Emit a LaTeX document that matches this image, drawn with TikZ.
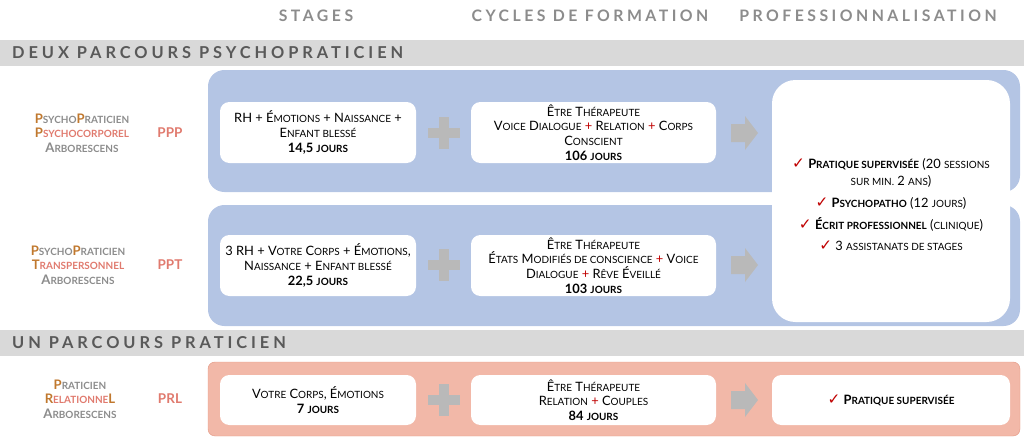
\documentclass[tikz,border=0pt]{standalone}
\usepackage{fontspec}
\setmainfont{Lato}
\newfontfamily\dejavu{DejaVu Sans}
\definecolor{bluebg}{HTML}{B4C5E4}
\definecolor{pinkbg}{HTML}{F2B8A8}
\definecolor{pinkbd}{HTML}{E49A86}
\definecolor{bandgray}{HTML}{D9D9D9}
\definecolor{hdgray}{HTML}{8C8C8C}
\definecolor{brn}{HTML}{C0782E}
\definecolor{pnk}{HTML}{E07A6E}
\definecolor{ckred}{HTML}{C00000}
\newcommand\sm[1]{{\fontsize{8.5}{8}\selectfont\MakeUppercase{#1}}}
\newcommand\ck{{\dejavu\fontsize{13}{12}\selectfont\color{ckred}\bfseries ✓}}
\newcommand\pl{{\color{ckred}+}}
\tikzset{
 hdr/.style={font=\fontsize{13.5}{14}\selectfont\bfseries\addfontfeatures{LetterSpace=22}, text=hdgray},
 band/.style={fill=bandgray, draw=none},
 bandtxt/.style={anchor=west, font=\fontsize{14}{14}\selectfont\bfseries\addfontfeatures{LetterSpace=24}, text=black!65},
 bt/.style={align=center, font=\fontsize{11}{12.5}\selectfont},
 lbl/.style={align=center, font=\fontsize{11.2}{12.5}\selectfont\bfseries, text=hdgray},
 code/.style={font=\fontsize{11.5}{12}\selectfont\bfseries, text=pnk},
}
\begin{document}
\begin{tikzpicture}[x=0.03cm,y=-0.03cm]
\useasboundingbox (0,0) rectangle (1024,438);
% headers
\node[hdr] (h1) at (316,16) {STAGES};
\node[hdr] (h2) at (590,16) {CYCLES DE FORMATION};
\node[hdr] (h3) at (868,16) {PROFESSIONNALISATION};
% bands
\fill[band] (0,40) rectangle (1024,66);
\node[bandtxt] (b1) at (8,53) {DEUX PARCOURS PSYCHOPRATICIEN};
\fill[band] (0,330) rectangle (1024,356);
\node[bandtxt] (b2) at (8,343) {UN PARCOURS PRATICIEN};
% blue boxes
\fill[bluebg, rounded corners=14pt] (208,70) rectangle (1020,192);
\fill[bluebg, rounded corners=14pt] (208,205) rectangle (1020,326);
\fill[white, rounded corners=20pt] (772,80) rectangle (1010,322);
% pink box
\fill[pinkbg, draw=pinkbd, rounded corners=6pt] (208,362) rectangle (1020,436);
% row 1
\node[lbl] (l1) at (82,133) {{\color{brn}P}\sm{sycho}{\color{brn}P}\sm{raticien}\\{\color{brn}P}{\color{pnk}\sm{sychocorporel}}\\A\sm{rborescens}};
\node[code] (c1) at (170,133) {PPP};
\fill[white, rounded corners=8pt] (220,102) rectangle (416,163);
\node[bt] (s1t) at (318,132.5) {RH + É\sm{motions} + N\sm{aissance} +\\E\sm{nfant blessé}\\\textbf{14,5 \sm{jours}}};
\fill[white, rounded corners=8pt] (471,102) rectangle (716,163);
\node[bt] (y1t) at (593.5,132.5) {Ê\sm{tre} T\sm{hérapeute}\\V\sm{oice} D\sm{ialogue} \pl{} R\sm{elation} \pl{} C\sm{orps}\\C\sm{onscient}\\\textbf{106 \sm{jours}}};
% row 2
\node[lbl] (l2) at (78,265) {{\color{brn}P}\sm{sycho}{\color{brn}P}\sm{raticien}\\{\color{brn}T}{\color{pnk}\sm{ranspersonnel}}\\A\sm{rborescens}};
\node[code] (c2) at (170,265) {PPT};
\fill[white, rounded corners=8pt] (220,235) rectangle (416,296);
\node[bt] (s2t) at (318,265.5) {3 RH + V\sm{otre} C\sm{orps} + É\sm{motions},\\N\sm{aissance} + E\sm{nfant blessé}\\\textbf{22,5 \sm{jours}}};
\fill[white, rounded corners=8pt] (471,235) rectangle (716,296);
\node[bt] (y2t) at (593.5,265.5) {Ê\sm{tre} T\sm{hérapeute}\\É\sm{tats} M\sm{odifiés de conscience} \pl{} V\sm{oice}\\D\sm{ialogue} \pl{} R\sm{êve} É\sm{veillé}\\\textbf{103 \sm{jours}}};
% professionalisation
\node[align=center, font=\fontsize{11}{14.5}\selectfont] (pro) at (891,205) {\ck\ \textbf{P\sm{ratique supervisée}} (20 \sm{sessions}\\\sm{sur min.} 2 \sm{ans})\\[4pt]
\ck\ \textbf{P\sm{sychopatho}} (12 \sm{jours})\\[4pt]
\ck\ \textbf{É\sm{crit professionnel}} (\sm{clinique})\\[4pt]
\ck\ 3 \sm{assistanats de stages}};
% row 3
\node[lbl] (l3) at (80,399) {{\color{brn}P}\sm{raticien}\\{\color{brn}R}{\color{pnk}\sm{elationne}}{\color{brn}L}\\A\sm{rborescens}};
\node[code] (c3) at (170,399) {PRL};
\fill[white, rounded corners=8pt] (220,375) rectangle (416,425);
\node[bt] (s3t) at (318,400) {V\sm{otre} C\sm{orps}, É\sm{motions}\\\textbf{7 \sm{jours}}};
\fill[white, rounded corners=8pt] (471,375) rectangle (716,425);
\node[bt] (y3t) at (593.5,400) {Ê\sm{tre} T\sm{hérapeute}\\R\sm{elation} \pl{} C\sm{ouples}\\\textbf{84 \sm{jours}}};
\fill[white, rounded corners=8pt] (772,375) rectangle (1010,425);
\node[bt] (p3t) at (891,400) {\ck\ \textbf{P\sm{ratique supervisée}}};
% plus signs and arrows
\foreach \yy in {133,265,400}{
 \fill[gray!55] (439,\yy-16) rectangle (449,\yy+16);
 \fill[gray!55] (428,\yy-5) rectangle (460,\yy+5);
 \fill[gray!55] (731,\yy-9) -- (745,\yy-9) -- (745,\yy-17) -- (758,\yy) -- (745,\yy+17) -- (745,\yy+9) -- (731,\yy+9) -- cycle;
}
\end{tikzpicture}
\end{document}
